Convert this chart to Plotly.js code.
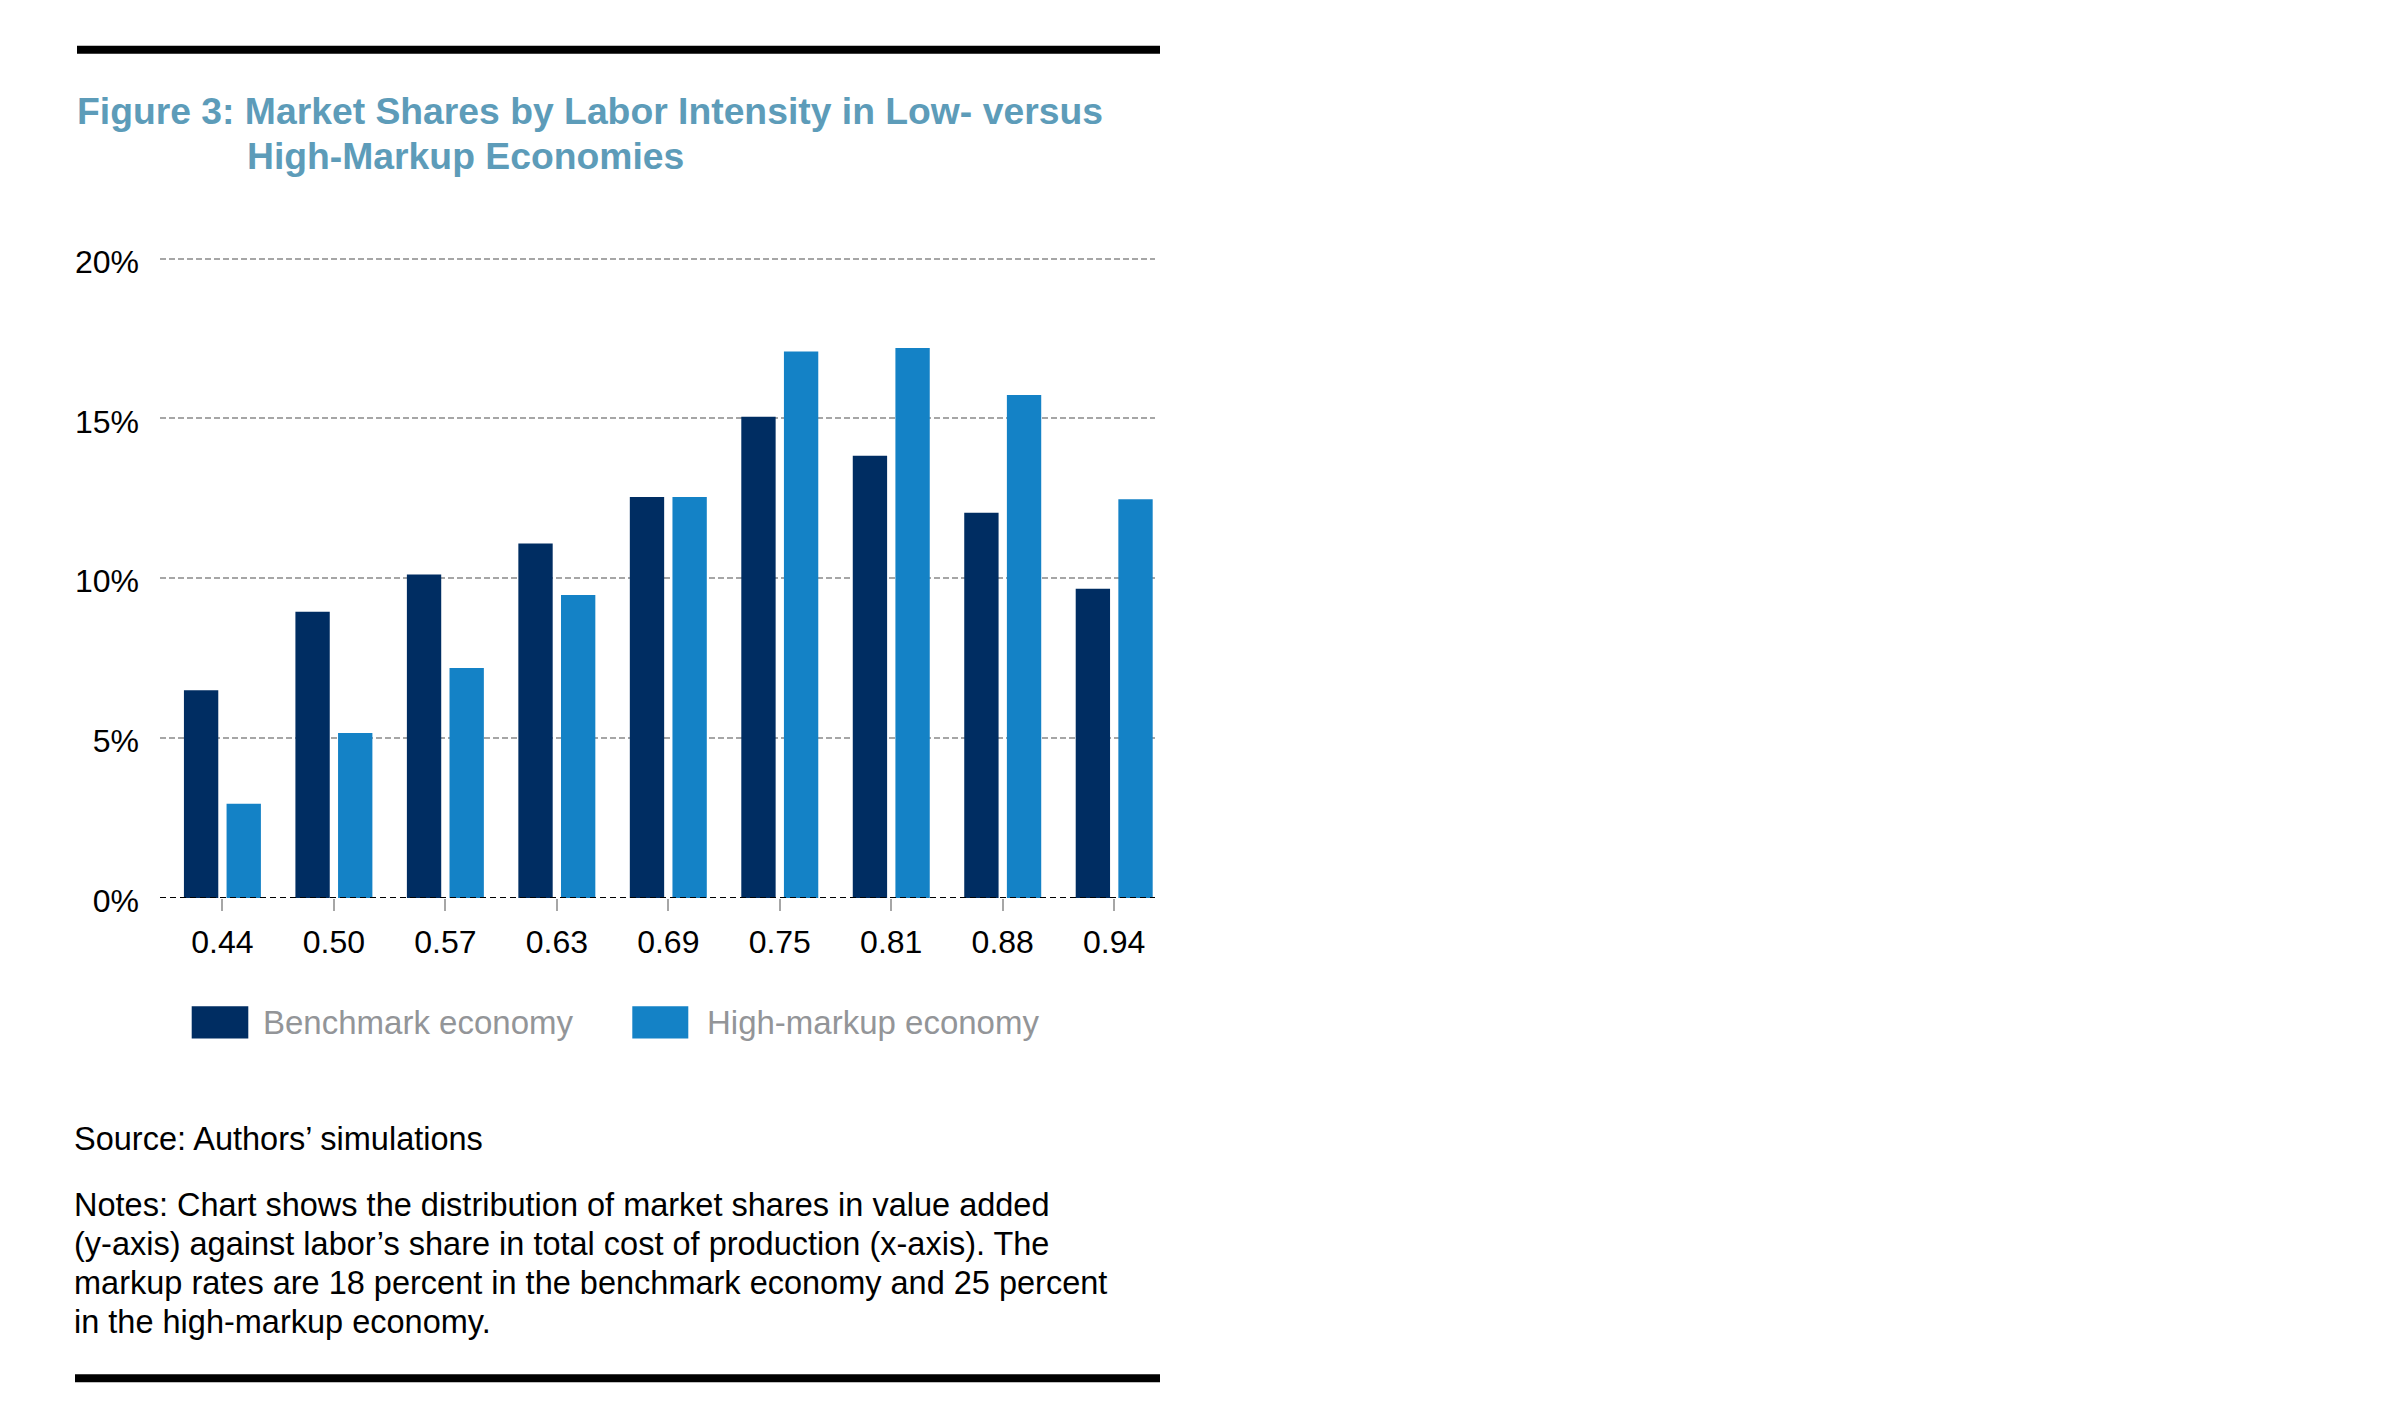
<!DOCTYPE html>
<html>
<head>
<meta charset="utf-8">
<script src="https://cdn.plot.ly/plotly-3.0.1.min.js"></script>
<style>
html,body{margin:0;padding:0;background:#fff;}
#chart{width:2400px;height:1425px;}
</style>
</head>
<body>
<div id="chart"></div>
<script>
// ---- data ----
const categories = ['0.44','0.50','0.57','0.63','0.69','0.75','0.81','0.88','0.94'];
const benchmark  = [6.50, 8.95, 10.12, 11.09, 12.54, 15.05, 13.83, 12.05, 9.67];
const highMarkup = [2.95, 5.16, 7.19, 9.48, 12.54, 17.09, 17.20, 15.73, 12.47];
const seriesNames = ['Benchmark economy', 'High-markup economy'];
const yTicks = [0, 5, 10, 15, 20];
const titleLines = ['Figure 3: Market Shares by Labor Intensity in Low- versus', 'High-Markup Economies'];
const sourceText = 'Source: Authors\u2019 simulations';
const notesLines = [
  'Notes: Chart shows the distribution of market shares in value added',
  '(y-axis) against labor\u2019s share in total cost of production (x-axis). The',
  'markup rates are 18 percent in the benchmark economy and 25 percent',
  'in the high-markup economy.'
];

// ---- layout geometry (pixels) ----
const W = 2400, H = 1425;
const YMAX = 20.08;
const PXU = 32; // pixels per percentage point
const L = 160, R = 1155, B = 898.3, T = B - YMAX * PXU;
const px = v => (v - L) / (R - L);
const py = v => (B - v) / (B - T);

const FONT = 'Liberation Sans, Arial, Helvetica, sans-serif';
const C_BENCH = '#002D62';
const C_HIGH = '#1482C6';
const C_TITLE = '#5D9CB9';
const C_LEG = '#939598';

const traces = [
  {type:'bar', name: seriesNames[0], x: categories, y: benchmark, marker:{color:C_BENCH}, showlegend:false, hoverinfo:'x+y'},
  {type:'bar', name: seriesNames[1], x: categories, y: highMarkup, marker:{color:C_HIGH}, showlegend:false, hoverinfo:'x+y'}
];

const annotations = [];
function txt(text, x, y, size, color, bold) {
  annotations.push({
    xref:'paper', yref:'paper', x: px(x), y: py(y), xanchor:'left', yanchor:'middle',
    text: bold ? '<b>' + text + '</b>' : text, showarrow:false, align:'left',
    font:{family:FONT, size:size, color:color}
  });
}
// title
txt(titleLines[0], 75, 111, 37.3, C_TITLE, true);
txt(titleLines[1], 244.5, 156, 37.3, C_TITLE, true);
// legend text
txt(seriesNames[0], 261, 1023, 33, C_LEG, false);
txt(seriesNames[1], 704.5, 1023, 33, C_LEG, false);
// source + notes
txt(sourceText, 71.5, 1140, 32.5, '#000', false);
const notesBase = [1215, 1254, 1293.3, 1332.3];
notesLines.forEach((l, i) => txt(l, 71.5, notesBase[i] - 9.5, 32.5, '#000', false));

const shapes = [
  // top & bottom rules
  {type:'rect', xref:'paper', yref:'paper', x0:px(77), x1:px(1160), y0:py(45.3), y1:py(53.3), fillcolor:'#000', line:{width:0}},
  {type:'rect', xref:'paper', yref:'paper', x0:px(75), x1:px(1160), y0:py(1375), y1:py(1383), fillcolor:'#000', line:{width:0}},
  // legend swatches
  {type:'rect', xref:'paper', yref:'paper', x0:px(191.7), x1:px(248.3), y0:py(1006.7), y1:py(1039), fillcolor:C_BENCH, line:{width:0}},
  {type:'rect', xref:'paper', yref:'paper', x0:px(632.3), x1:px(688.3), y0:py(1006.7), y1:py(1039), fillcolor:C_HIGH, line:{width:0}},
  // zero line (dashed black)
  {type:'line', xref:'paper', yref:'y', x0:0, x1:1, y0:0, y1:0, line:{color:'#000', width:2, dash:'6px,4px'}, layer:'above'}
];

const layout = {
  width: W, height: H,
  paper_bgcolor:'#fff', plot_bgcolor:'#fff',
  margin:{l:L, r:W - R, t:T, b:H - B, pad:0},
  font:{family:FONT, size:32, color:'#000'},
  barmode:'group', bargap:0.235, bargroupgap:0.1946,
  showlegend:false,
  xaxis:{
    type:'category', range:[-0.56, 8.366], fixedrange:true,
    showgrid:false, zeroline:false, showline:false,
    ticks:'outside', ticklen:12, tickwidth:2, tickcolor:'#A6A6A6',
    ticklabelstandoff:4,
    tickfont:{family:FONT, size:32, color:'#000'}
  },
  yaxis:{
    range:[0, YMAX], fixedrange:true,
    tickvals: yTicks, ticktext: yTicks.map(v => v + '%'),
    showgrid:true, gridcolor:'#A6A6A6', gridwidth:2, griddash:'6px,3px',
    zeroline:false, showline:false, ticks:'',
    ticklabelstandoff:20, ticklabelshift:3,
    tickfont:{family:FONT, size:32, color:'#000'}
  },
  annotations: annotations,
  shapes: shapes
};

Plotly.newPlot('chart', traces, layout, {staticPlot:true, displayModeBar:false});
</script>
</body>
</html>
